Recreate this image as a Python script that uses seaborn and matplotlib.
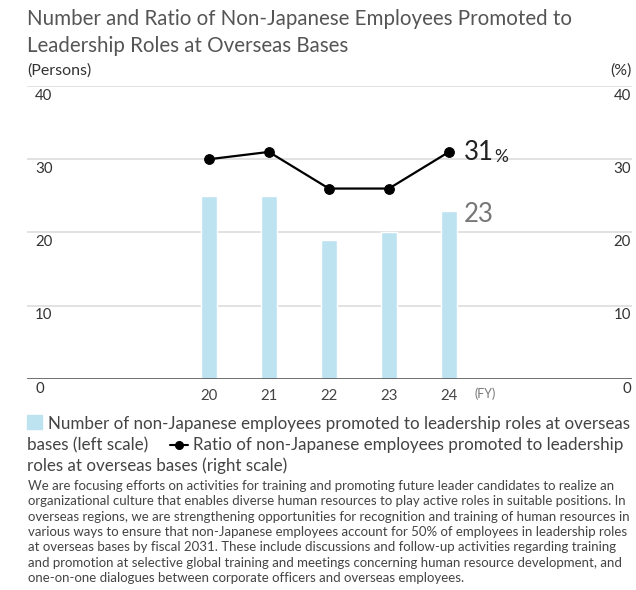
import numpy as np
import pandas as pd
import matplotlib
matplotlib.use("Agg")
import matplotlib.pyplot as plt
import matplotlib.transforms as mtransforms
from matplotlib.patches import Rectangle
from matplotlib.lines import Line2D
import seaborn as sns

# ---- data ----
years = ["20", "21", "22", "23", "24"]
persons = [25, 25, 19, 20, 23]
ratio = [30, 31, 26, 26, 31]
yticks = [0, 10, 20, 30, 40]

title_lines = ["Number and Ratio of Non-Japanese Employees Promoted to",
               "Leadership Roles at Overseas Bases"]
legend_bar = "Number of non-Japanese employees promoted to leadership roles at overseas"
legend_bar2 = "bases (left scale)"
legend_line = "Ratio of non-Japanese employees promoted to leadership"
legend_line2 = "roles at overseas bases (right scale)"
body_lines = [
    "We are focusing efforts on activities for training and promoting future leader candidates to realize an",
    "organizational culture that enables diverse human resources to play active roles in suitable positions. In",
    "overseas regions, we are strengthening opportunities for recognition and training of human resources in",
    "various ways to ensure that non-Japanese employees account for 50% of employees in leadership roles",
    "at overseas bases by fiscal 2031. These include discussions and follow-up activities regarding training",
    "and promotion at selective global training and meetings concerning human resource development, and",
    "one-on-one dialogues between corporate officers and overseas employees.",
]

sns.set_theme(style="white")
FONT = "Lato"
plt.rcParams["font.family"] = [FONT, "DejaVu Sans"]

W, H = 636, 590
fig = plt.figure(figsize=(W / 100, H / 100), dpi=100)
renderer = fig.canvas.get_renderer()


def fx(px):
    return px / W


def fy(py):
    return 1 - py / H


def fit_size(text, target_px, start=10.0):
    t = fig.text(0, 0, text, fontsize=start)
    w = t.get_window_extent(renderer=renderer).width
    t.remove()
    return start * target_px / w


ax_left, ax_right_px, ax_top, ax_bot = 27, 632, 86, 379
ax = fig.add_axes([fx(ax_left), fy(ax_bot), fx(ax_right_px - ax_left), (ax_bot - ax_top) / H])

df = pd.DataFrame({"year": years, "persons": persons, "ratio": ratio, "pos": np.arange(len(years))})

BAR = "#bde3f1"
sns.barplot(data=df, x="year", y="persons", color=BAR, width=0.26, ax=ax, saturation=1)
ax.set_xlim(-3.03, 7.05)
ax.set_ylim(0, 40)
ax.set_xlabel("")
ax.set_ylabel("")
for s in ax.spines.values():
    s.set_visible(False)
ax.set_yticks([])
ax.tick_params(axis="x", length=0, pad=7, labelsize=10.8, colors="#444")

# gridlines
for v in yticks[1:]:
    ax.axhline(v, color="#dddddd", lw=1.2, zorder=0)
ax.axhline(0, color="#555555", lw=1.9, zorder=3)

# y tick labels left and right (below gridlines)
tr = mtransforms.blended_transform_factory(ax.transAxes, ax.transData)
span = ax_right_px - ax_left
for v in yticks:
    ax.text(8 / span, v - 1.3, str(v), transform=tr, ha="left", va="center",
            fontsize=10.8, color="#333")
    ax.text(1 - 1 / span, v - 1.3, str(v), transform=tr, ha="right", va="center",
            fontsize=10.8, color="#333")

ax2 = ax.twinx()
sns.lineplot(data=df, x="pos", y="ratio", ax=ax2, color="black", lw=1.6, marker="o",
             markersize=7, markeredgecolor="black")
ax2.set_ylim(0, 40)
ax2.set_xlim(-3.03, 7.05)
ax2.set_yticks([])
ax2.set_ylabel("")
ax2.set_xlabel("")
for s in ax2.spines.values():
    s.set_visible(False)

# (FY)
ax.text(len(years) - 1 + 0.42, -1.95, "(FY)", ha="left", va="center", fontsize=9, color="#777",
        transform=ax.transData)

# annotations
last = len(years) - 1
t31 = ax2.annotate(f"{ratio[-1]}", xy=(last, ratio[-1]), xytext=(11, -5.7), textcoords="offset points",
                   ha="left", va="baseline", fontsize=18.5, color="#222")
ax2.annotate("%", xy=(1, 0), xycoords=t31, xytext=(0.3, 0), textcoords="offset points",
             ha="left", va="bottom", fontsize=12.5, color="#222")
ax.annotate(f"{persons[-1]}", xy=(last, persons[-1]), xytext=(11, -8.3), textcoords="offset points",
            ha="left", va="baseline", fontsize=18.5, color="#777")

# axis unit labels
fig.text(fx(27), fy(75), "(Persons)", ha="left", va="baseline", fontsize=11.5, color="#333")
fig.text(fx(632), fy(75), "(%)", ha="right", va="baseline", fontsize=11.5, color="#333")

# title
fs_title = fit_size(title_lines[0], 546)
for i, ln in enumerate(title_lines):
    fig.text(fx(27), fy(25 + 27 * i), ln, ha="left", va="baseline", fontsize=fs_title, color="#555")

# legend
fs_leg = fit_size(legend_bar, 583)
fig.patches.append(Rectangle((fx(27), fy(429)), fx(15), 14 / H, transform=fig.transFigure,
                             color=BAR, figure=fig))
fig.text(fx(48), fy(429), legend_bar, ha="left", va="baseline", fontsize=fs_leg, color="#444")
fig.text(fx(27), fy(450), legend_bar2, ha="left", va="baseline", fontsize=fs_leg, color="#444")
fig.lines.append(Line2D([fx(170), fx(188)], [fy(445), fy(445)], transform=fig.transFigure,
                        color="black", lw=1.5, figure=fig))
fig.lines.append(Line2D([fx(179)], [fy(445)], transform=fig.transFigure, color="black",
                        marker="o", markersize=5.5, figure=fig))
fig.text(fx(193), fy(450), legend_line, ha="left", va="baseline", fontsize=fs_leg, color="#444")
fig.text(fx(27), fy(471), legend_line2, ha="left", va="baseline", fontsize=fs_leg, color="#444")

# body
fs_body = fit_size(body_lines[3], 603)
for i, ln in enumerate(body_lines):
    fig.text(fx(28), fy(490 + 15.33 * i), ln, ha="left", va="baseline", fontsize=fs_body, color="#444")

fig.savefig("out.png", dpi=100)
